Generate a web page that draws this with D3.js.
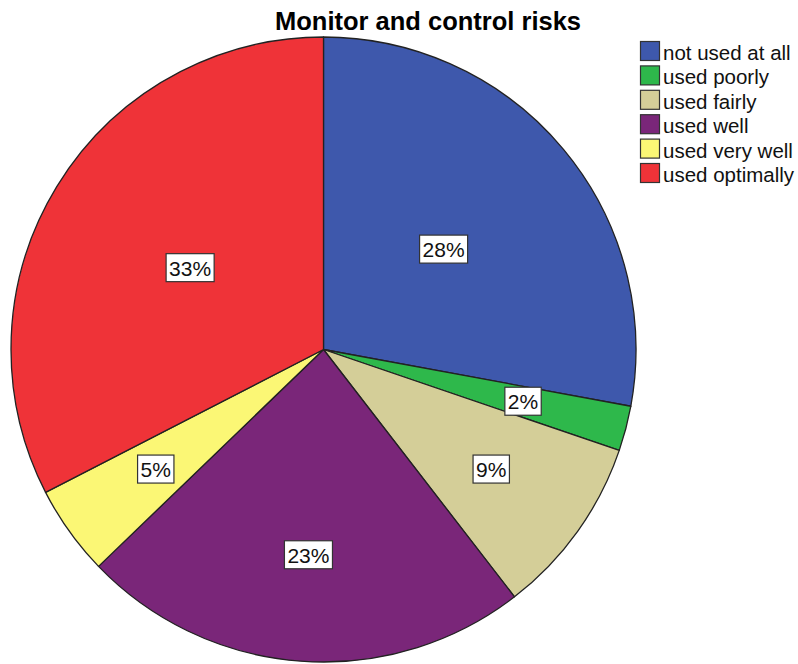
<!DOCTYPE html>
<html><head><meta charset="utf-8">
<script src="https://cdn.jsdelivr.net/npm/d3@7"></script>
<style>body{margin:0;background:#fff;} svg{display:block;font-family:Arial,"Liberation Sans",sans-serif;}</style>
</head><body>
<svg id="chart" width="798" height="664"></svg>
<script>
const title = "Monitor and control risks";
const categories = ["not used at all","used poorly","used fairly","used well","used very well","used optimally"];
const counts = [12, 1, 4, 10, 2, 14];
const colors = ["#3e58ac","#2eb84b","#d4ce98","#7a2679","#fbf775","#ef3338"];

const svg = d3.select("#chart");
const cx = 323.5, cy = 349.5, R = 312.5;
const total = d3.sum(counts);
const data = categories.map((c,i)=>({cat:c, v:counts[i], col:colors[i]}));
const pie = d3.pie().value(d=>d.v).sort(null);
const arcs = pie(data);
const arc = d3.arc().innerRadius(0).outerRadius(R);
const g = svg.append("g").attr("transform",`translate(${cx},${cy})`);
g.selectAll("path.slice").data(arcs).enter().append("path")
  .attr("class","slice").attr("d",arc)
  .attr("fill",d=>d.data.col).attr("stroke","#222").attr("stroke-width",1.3).attr("stroke-linejoin","round");

// labels
arcs.forEach(a=>{
  const share = a.data.v/total;
  const rr = R*(share>0.25?0.5:0.66);
  const m = (a.startAngle+a.endAngle)/2;
  const x = rr*Math.sin(m), y = -rr*Math.cos(m);
  const txt = d3.format(".0%")(share);
  const lg = g.append("g").attr("transform",`translate(${x},${y})`);
  const t = lg.append("text").attr("text-anchor","middle").attr("dy","0.36em")
    .attr("font-size",21).attr("fill","#111").text(txt);
  const bb = t.node().getBBox();
  lg.insert("rect","text").attr("x",bb.x-3).attr("y",bb.y-3).attr("width",bb.width+6).attr("height",bb.height+5)
    .attr("fill","#fff").attr("stroke","#333").attr("stroke-width",1.2);
});

// title
svg.append("text").attr("x",428).attr("y",30).attr("text-anchor","middle")
  .attr("font-size",25.5).attr("font-weight","bold").attr("fill","#000").text(title);

// legend
const leg = svg.append("g").attr("transform","translate(640,41)");
const rowH = 24.4;
data.forEach((d,i)=>{
  const row = leg.append("g").attr("transform",`translate(0,${i*rowH})`);
  row.append("rect").attr("x",0.5).attr("y",0.5).attr("width",19).attr("height",19)
    .attr("fill",d.col).attr("stroke","#333").attr("stroke-width",1.2);
  row.append("text").attr("x",23).attr("y",19).attr("font-size",20.5).attr("fill","#111").text(d.cat);
});
</script>
</body></html>
